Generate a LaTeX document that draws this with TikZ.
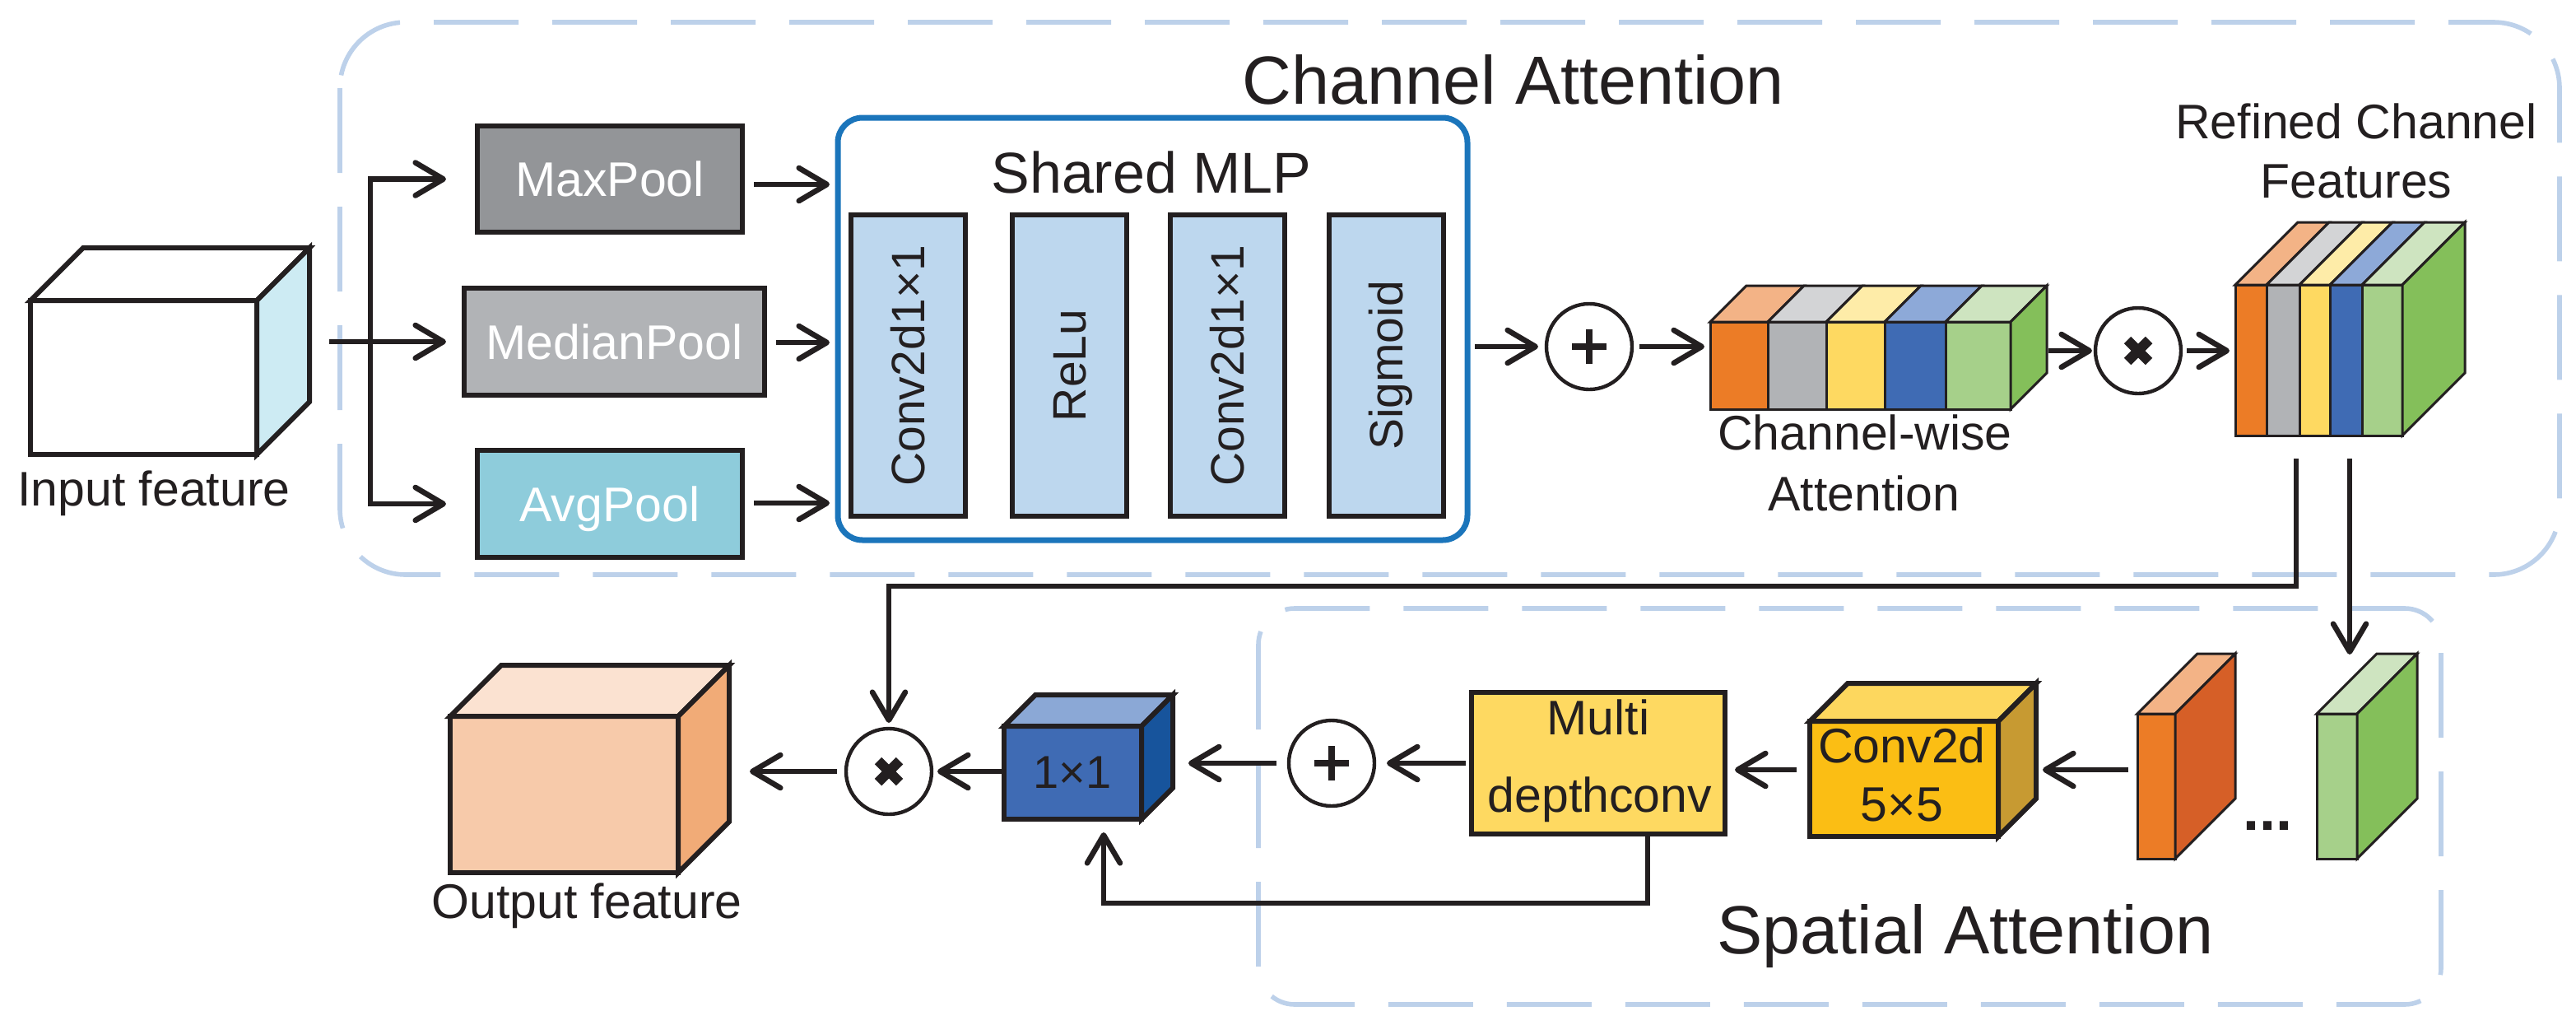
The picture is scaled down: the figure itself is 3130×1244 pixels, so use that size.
\documentclass[tikz,border=0pt]{standalone}
\usepackage{fontspec}
\setmainfont{Liberation Sans}
\usetikzlibrary{arrows.meta,calc}

\definecolor{dashblue}{HTML}{BDD1EA}
\definecolor{ink}{HTML}{231F20}
\definecolor{mlpblue}{HTML}{1B75BB}
\definecolor{mlpfill}{HTML}{BDD7EE}
\definecolor{maxg}{HTML}{939598}
\definecolor{medg}{HTML}{B1B3B6}
\definecolor{avgc}{HTML}{8ECCDB}
\definecolor{cyanside}{HTML}{CDEBF3}
\definecolor{cOr}{HTML}{EC7C26}
\definecolor{cGr}{HTML}{B1B3B6}
\definecolor{cYe}{HTML}{FED961}
\definecolor{cBl}{HTML}{3F6BB4}
\definecolor{cLg}{HTML}{A6D08A}
\definecolor{tOr}{HTML}{F3B386}
\definecolor{tGr}{HTML}{D3D4D6}
\definecolor{tYe}{HTML}{FEECA8}
\definecolor{tBl}{HTML}{8DA9D8}
\definecolor{tLg}{HTML}{CEE4C0}
\definecolor{sGn}{HTML}{84BF5A}
\definecolor{outF}{HTML}{F7CAAA}
\definecolor{outT}{HTML}{FBE2D1}
\definecolor{outS}{HTML}{F1AB77}
\definecolor{oneF}{HTML}{3F6BB4}
\definecolor{oneT}{HTML}{8BA8D6}
\definecolor{oneS}{HTML}{17549C}
\definecolor{multiF}{HTML}{FED961}
\definecolor{convF}{HTML}{FBBE14}
\definecolor{convT}{HTML}{FDD75E}
\definecolor{convS}{HTML}{C79A32}
\definecolor{slabS}{HTML}{D65F27}

\newcommand\fsTitle{\fontsize{20.7pt}{24pt}\selectfont}
\newcommand\fsLab{\fontsize{14.75pt}{18pt}\selectfont}
\newcommand\fsMLP{\fontsize{17.5pt}{21pt}\selectfont}
\newcommand\fsIn{\fontsize{14.25pt}{17pt}\selectfont}
\newcommand\fsDots{\fontsize{18pt}{20pt}\selectfont}

\newcommand\cubelw{1.5pt}
\newcommand\cubeblk[9]{%
  \node[draw=ink, line width=\cubelw, inner sep=0pt, outer sep=0pt, fill=#7,
        minimum width={(#4-#2)*0.25pt}, minimum height={(#5-#3)*0.25pt}]
        (#1) at ({(#2+#4)/2},{(#3+#5)/2}) {};
  \filldraw[draw=ink, line width=\cubelw, fill=#8] (#1.north west) -- ++(#6,-#6)
     -- ($(#1.north east)+(#6,-#6)$) -- (#1.north east) -- cycle;
  \filldraw[draw=ink, line width=\cubelw, fill=#9] (#1.north east) -- ++(#6,-#6)
     -- ($(#1.south east)+(#6,-#6)$) -- (#1.south east) -- cycle;
}

\tikzset{
  cabox/.style={draw=dashblue, line width=1.4pt, dash pattern=on 25.75pt off 10.25pt, rounded corners=20pt},
  sabox/.style={draw=dashblue, line width=1.4pt, dash pattern=on 25.75pt off 10.25pt, rounded corners=11pt},
  conn/.style={draw=ink, line width=1.65pt},
  arr/.style={conn, -{Straight Barb[length=8.5pt,width=10pt,round]}},
  face/.style={draw=ink, line width=1.5pt, inner sep=0pt, outer sep=0pt},
  pool/.style={face, text=white, font=\fsLab, text height=10.6pt, text depth=0pt},
  mlpin/.style={face, fill=mlpfill, rotate=90, minimum width=91.5pt, minimum height=34.75pt,
                font=\fsIn, text=ink, text height=10.2pt, text depth=0pt},
  opc/.style={circle, draw=ink, line width=1.1pt, minimum size=26pt, inner sep=0pt, outer sep=0pt},
  sign/.style={draw=ink, line width=2pt},
  xsign/.style={draw=ink, line width=3pt},
  stripe/.style={draw=ink, line width=0.75pt},
  lab/.style={anchor=base, font=\fsLab, text=ink},
}

\begin{document}
\begin{tikzpicture}[x=0.25pt, y=-0.25pt]
\useasboundingbox (0,0) rectangle (3130,1244);

% ---------- dashed group frames ----------
\draw[cabox] (413,27) rectangle (3110,698);
\draw[sabox] (1529,739) rectangle (2966,1220);
\node[anchor=base, font=\fsTitle, text=ink] (catitle) at (1839,126) {Channel Attention};
\node[anchor=base, font=\fsTitle, text=ink] (satitle) at (2388,1158) {Spatial Attention};

% ---------- input feature ----------
\cubeblk{incube}{37}{365}{312}{552}{64}{white}{white}{cyanside}
\node[lab] (inlab) at (187,614) {Input feature};

% ---------- pooling ----------
\node[pool, fill=maxg, minimum width=80.5pt, minimum height=32.25pt] (maxp) at (741,217.5) {MaxPool};
\node[pool, fill=medg, minimum width=91.25pt, minimum height=32.5pt] (medp) at (746.5,415) {MedianPool};
\node[pool, fill=avgc, minimum width=80.5pt, minimum height=32.5pt] (avgp) at (741,612) {AvgPool};

\coordinate (inS) at (400,415);
\coordinate (inJ) at (450,415);
\draw[arr, shorten >=5.5pt] (inS) -- (medp.west);
\draw[arr, shorten >=9.5pt] (inJ) |- (maxp.west);
\draw[arr, shorten >=9.5pt] (inJ) |- (avgp.west);

% ---------- shared MLP ----------
\node[draw=mlpblue, line width=1.75pt, rounded corners=7.5pt, inner sep=0pt, outer sep=0pt,
      minimum width=191.25pt, minimum height=128.25pt] (mlp) at (1400.5,399.5) {};
\node[anchor=base, font=\fsMLP, text=ink] (mlptitle) at (1399,234) {Shared MLP};
\node[mlpin] (m1) at (1103.5,444) {Conv2d1×1};
\node[mlpin] (m2) at (1299.5,444) {ReLu};
\node[mlpin] (m3) at (1491.5,444) {Conv2d1×1};
\node[mlpin] (m4) at (1684.5,444) {Sigmoid};

\draw[arr, shorten <=3.5pt, shorten >=2.5pt] (maxp.east |- 0,224) -- (mlp.west |- 0,224);
\draw[arr, shorten <=3.5pt, shorten >=2.5pt] (medp.east |- 0,416) -- (mlp.west |- 0,416);
\draw[arr, shorten <=3.5pt, shorten >=2.5pt] (avgp.east |- 0,611) -- (mlp.west |- 0,611);

% ---------- plus, channel-wise attention ----------
\node[opc] (plusA) at (1931,421) {};
\draw[sign] ($(plusA)+(-21,0)$) -- ($(plusA)+(21,0)$);
\draw[sign] ($(plusA)+(0,-21)$) -- ($(plusA)+(0,21)$);

\node[draw=ink, line width=0.75pt, inner sep=0pt, outer sep=0pt,
      minimum width=91.25pt, minimum height=26.5pt] (cw) at (2260.5,444) {};
\foreach \a/\b/\cf/\ct in {2078/2148/cOr/tOr, 2148/2219/cGr/tGr, 2219/2290/cYe/tYe, 2290/2364/cBl/tBl, 2364/2443/cLg/tLg}{
  \filldraw[stripe, fill=\cf] (\a,391) rectangle (\b,497);
  \filldraw[stripe, fill=\ct] (\a,391) -- (\a+44,347) -- (\b+44,347) -- (\b,391) -- cycle;
}
\filldraw[stripe, fill=sGn] (2443,391) -- (2487,347) -- (2487,453) -- (2443,497) -- cycle;
\node[lab] (cwl1) at (2266,546) {Channel-wise};
\node[lab] (cwl2) at (2265,620) {Attention};

\draw[arr, shorten <=2.25pt, shorten >=2.5pt] (mlp.east |- plusA) -- (plusA.west);
\draw[arr, shorten <=2.25pt, shorten >=1.75pt] (plusA.east) -- (plusA.east -| cw.west);

% ---------- times, refined features ----------
\node[opc] (timesA) at (2598,426) {};
\draw[xsign] ($(timesA)+(-13,-13)$) -- ($(timesA)+(13,13)$);
\draw[xsign] ($(timesA)+(-13,13)$) -- ($(timesA)+(13,-13)$);
\coordinate (cwout) at (2489,426);
\draw[arr, shorten >=1pt] (cwout) -- (timesA.west);

\node[draw=ink, line width=0.75pt, inner sep=0pt, outer sep=0pt,
      minimum width=50.75pt, minimum height=45.75pt] (rf) at (2817.5,437.5) {};
\foreach \a/\b/\cf/\ct in {2716/2754/cOr/tOr, 2754/2794/cGr/tGr, 2794/2831/cYe/tYe, 2831/2870/cBl/tBl, 2870/2919/cLg/tLg}{
  \filldraw[stripe, fill=\cf] (\a,346) rectangle (\b,529);
  \filldraw[stripe, fill=\ct] (\a,346) -- (\a+76,270) -- (\b+76,270) -- (\b,346) -- cycle;
}
\filldraw[stripe, fill=sGn] (2919,346) -- (2995,270) -- (2995,453) -- (2919,529) -- cycle;
\node[lab] (rfl1) at (2863,168) {Refined Channel};
\node[lab] (rfl2) at (2863,240) {Features};
\draw[arr, shorten <=1.75pt, shorten >=1.75pt] (timesA.east) -- (timesA.east -| rf.west);

% ---------- spatial branch ----------
\renewcommand\cubelw{0.75pt}
\cubeblk{os}{2597}{867}{2643}{1043}{73}{cOr}{tOr}{slabS}
\cubeblk{gs}{2815}{867}{2864}{1043}{73}{cLg}{tLg}{sGn}
\node[anchor=base, font=\fsDots\bfseries, text=ink] (dots) at (2755,1008) {...};

\renewcommand\cubelw{1.5pt}
\cubeblk{cv}{2199}{876}{2428}{1016}{46}{convF}{convT}{convS}
\node[lab] (cvl1) at (2311,926) {Conv2d};
\node[lab] (cvl2) at (2311,997) {5×5};

\node[face, fill=multiF, minimum width=77pt, minimum height=43pt] (multi) at (1942,927) {};
\node[lab] (mul1) at (1942,892) {Multi};
\node[lab] (mul2) at (1944,986) {depthconv};

\node[opc] (plusB) at (1618,927) {};
\draw[sign] ($(plusB)+(-21,0)$) -- ($(plusB)+(21,0)$);
\draw[sign] ($(plusB)+(0,-21)$) -- ($(plusB)+(0,21)$);

\cubeblk{one}{1220}{882}{1387}{995}{38}{oneF}{oneT}{oneS}
\node[anchor=base, font=\fontsize{14pt}{17pt}\selectfont, text=ink] (onel) at (1303,957) {1×1};

\node[opc] (timesB) at (1080,937) {};
\draw[xsign] ($(timesB)+(-13,-13)$) -- ($(timesB)+(13,13)$);
\draw[xsign] ($(timesB)+(-13,13)$) -- ($(timesB)+(13,-13)$);

\cubeblk{out}{547}{870}{824}{1060}{62}{outF}{outT}{outS}
\node[lab] (outl) at (713,1115) {Output feature};

% bottom-row connectors
\coordinate (rowY) at (0,935);
\draw[arr, shorten <=2.75pt, shorten >=13.5pt] (os.west |- rowY) -- (cv.east |- rowY);
\draw[arr, shorten <=4pt, shorten >=3pt] (cv.west |- rowY) -- (multi.east |- rowY);
\draw[arr, shorten <=1.75pt, shorten >=3.75pt] (multi.west) -- (plusB.east);
\draw[arr, shorten <=3.75pt, shorten >=14.25pt] (plusB.west) -- (plusB.west -| one.east);
\draw[arr, shorten >=1.75pt] (one.west |- timesB) -- (timesB.east);
\draw[arr, shorten <=2.75pt, shorten >=21.75pt] (timesB.west) -- (timesB.west -| out.east);

% skip connection
\coordinate (skipx) at (2002,1097);
\coordinate (skipL) at (1341,1097);
\draw[arr, shorten >=4pt] (multi.south -| skipx) -- (skipx) -- (skipL) -- (skipL |- one.south);

% links from refined features
\coordinate (rfA) at (2790,557);
\coordinate (rfB) at (2855,557);
\coordinate (midY) at (0,712);
\draw[arr, shorten >=1.75pt] (rfA) -- (rfA |- midY) -| (timesB.north);
\draw[arr, shorten >=18pt] (rfB) -- (rfB |- gs.north);
\end{tikzpicture}
\end{document}
